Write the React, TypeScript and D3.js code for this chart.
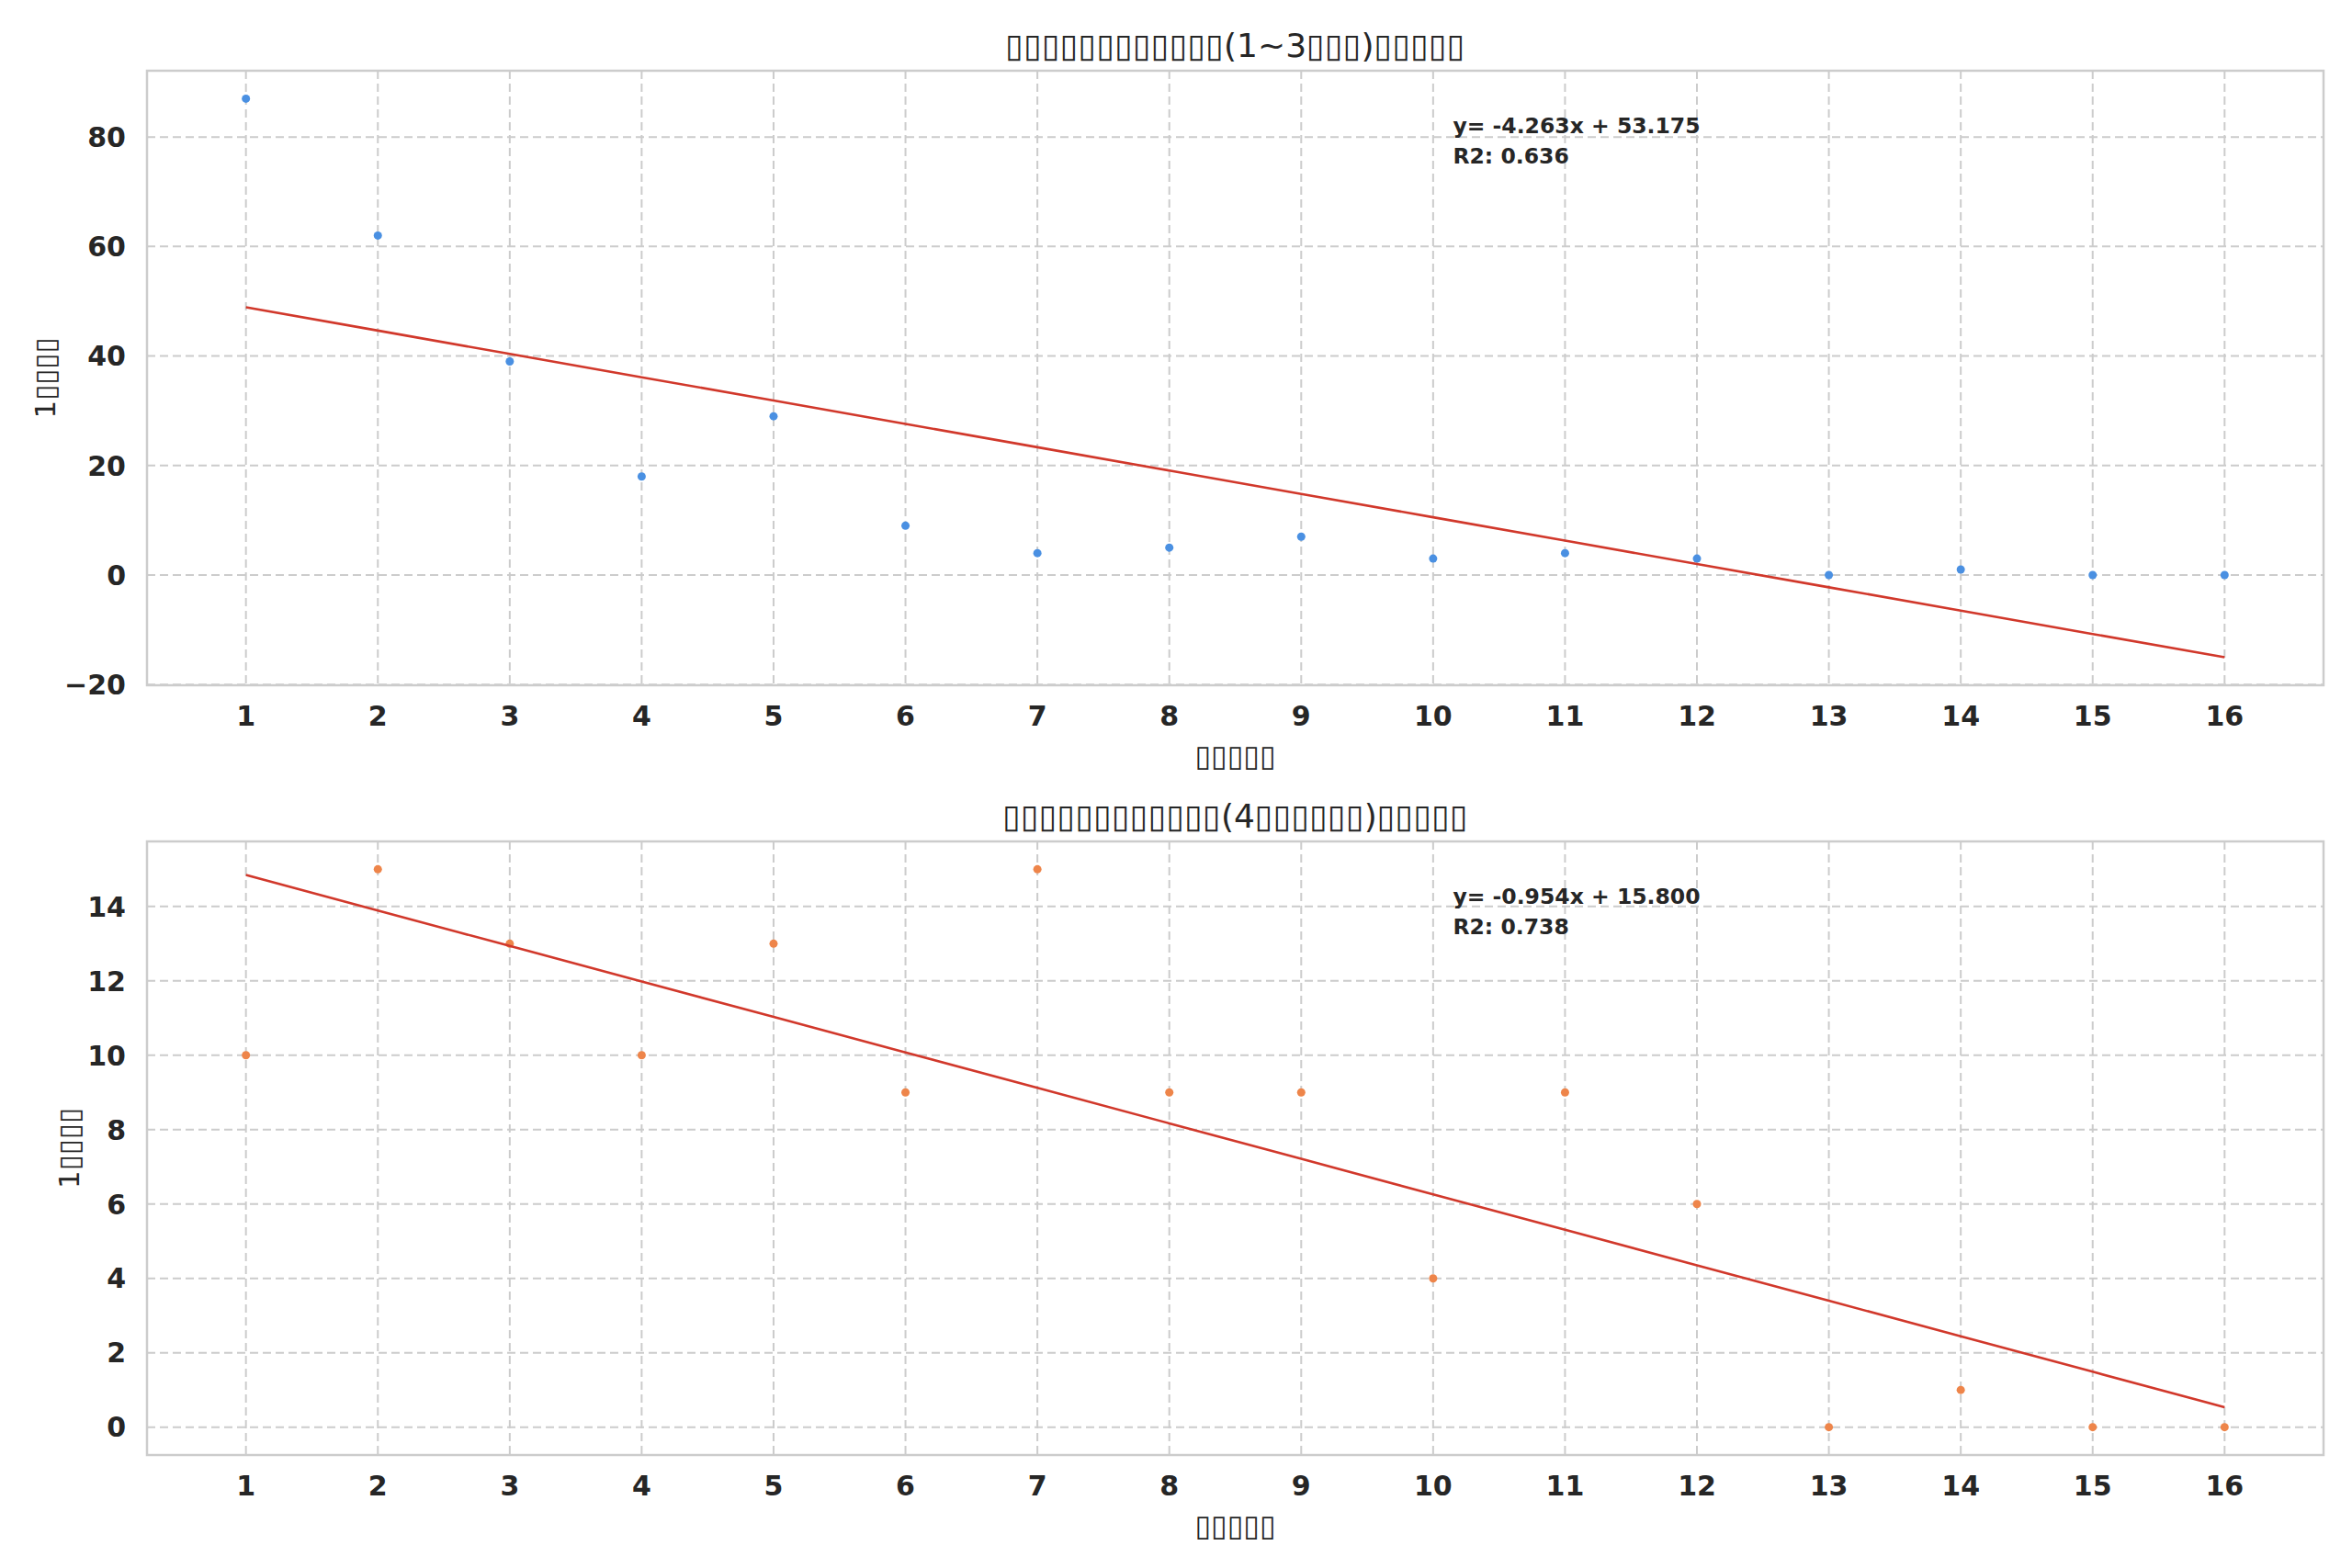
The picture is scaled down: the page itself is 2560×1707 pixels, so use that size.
import { useEffect, useRef } from "react";
import { select, scaleLinear, line, extent } from "d3";

// placeholder glyph for the characters that were rendered as empty boxes in the original
const T = "\u25AF";
const box = (n: number) => T.repeat(n);

const periods = [1, 2, 3, 4, 5, 6, 7, 8, 9, 10, 11, 12, 13, 14, 15, 16];
const shortValues = [87, 62, 39, 18, 29, 9, 4, 5, 7, 3, 4, 3, 0, 1, 0, 0];
const longValues = [10, 15, 13, 10, 13, 9, 15, 9, 9, 4, 9, 6, 0, 1, 0, 0];

const fitSlopes = [-4.263, -0.954];
const fitIntercepts = [53.175, 15.8];
const fitR2 = [0.636, 0.738];

const shortTicks = [-20, 0, 20, 40, 60, 80];
const longTicks = [0, 2, 4, 6, 8, 10, 12, 14];

const titleParts = [
    [box(12), "(1~3", box(3), ")", box(5)],
    [box(12), "(4", box(6), ")", box(5)],
];
const xLabelText = box(5);
const yLabelParts = ["1", box(4)];

const pointColors = ["#4a90e2", "#ee854a"];
const fitColor = "#d1382b";
const textColor = "#262626";
const gridColor = "#cccccc";

const W = 2560;
const H = 1707;
const left = 160;
const right = 2529;
const panels = [
    { top: 77, bottom: 746, ylabelX: 60, values: shortValues, ticks: shortTicks },
    { top: 916, bottom: 1584, ylabelX: 86, values: longValues, ticks: longTicks },
];

const fmtTick = (d: number) => (d < 0 ? "\u2212" + Math.abs(d) : String(d));

export default function App() {
    const ref = useRef<SVGSVGElement>(null);

    useEffect(() => {
        const svg = select(ref.current);
        svg.selectAll("*").remove();
        svg.append("rect").attr("width", W).attr("height", H).attr("fill", "white");

        const x = scaleLinear().domain([0.25, 16.75]).range([left, right]);

        panels.forEach((p, i) => {
            const slope = fitSlopes[i];
            const icpt = fitIntercepts[i];
            const fitted = periods.map((d) => icpt + slope * d);
            const [lo, hi] = extent([...p.values, ...fitted]) as [number, number];
            const pad = (hi - lo) * 0.05;
            const y = scaleLinear().domain([lo - pad, hi + pad]).range([p.bottom, p.top]);
            const g = svg.append("g");

            // grid
            g.selectAll(".gx")
                .data(periods)
                .join("line")
                .attr("x1", (d) => x(d))
                .attr("x2", (d) => x(d))
                .attr("y1", p.top)
                .attr("y2", p.bottom)
                .attr("stroke", gridColor)
                .attr("stroke-width", 2)
                .attr("stroke-dasharray", "9,5");
            g.selectAll(".gy")
                .data(p.ticks)
                .join("line")
                .attr("x1", left)
                .attr("x2", right)
                .attr("y1", (d) => y(d))
                .attr("y2", (d) => y(d))
                .attr("stroke", gridColor)
                .attr("stroke-width", 2)
                .attr("stroke-dasharray", "9,5");

            // frame
            g.append("rect")
                .attr("x", left)
                .attr("y", p.top)
                .attr("width", right - left)
                .attr("height", p.bottom - p.top)
                .attr("fill", "none")
                .attr("stroke", gridColor)
                .attr("stroke-width", 2.5);

            // points
            g.selectAll(".pt")
                .data(p.values)
                .join("circle")
                .attr("cx", (_, j) => x(periods[j]))
                .attr("cy", (d) => y(d))
                .attr("r", 4.5)
                .attr("fill", pointColors[i]);

            // fit line
            g.append("path")
                .datum(periods)
                .attr("fill", "none")
                .attr("stroke", fitColor)
                .attr("stroke-width", 2.6)
                .attr("d", line<number>().x((d) => x(d)).y((d) => y(icpt + slope * d)));

            // ticks
            g.selectAll(".xt")
                .data(periods)
                .join("text")
                .attr("x", (d) => x(d))
                .attr("y", p.bottom + 44)
                .attr("text-anchor", "middle")
                .attr("font-size", 30)
                .attr("font-weight", "bold")
                .attr("fill", textColor)
                .text((d) => d);
            g.selectAll(".yt")
                .data(p.ticks)
                .join("text")
                .attr("x", 137)
                .attr("y", (d) => y(d))
                .attr("dy", "0.36em")
                .attr("text-anchor", "end")
                .attr("font-size", 30)
                .attr("font-weight", "bold")
                .attr("fill", textColor)
                .text(fmtTick);

            // title
            const title = g
                .append("text")
                .attr("x", (left + right) / 2)
                .attr("y", p.top - 15)
                .attr("text-anchor", "middle")
                .attr("font-size", 36)
                .attr("fill", textColor);
            titleParts[i].forEach((s) => title.append("tspan").text(s));

            // axis labels
            g.append("text")
                .attr("x", (left + right) / 2)
                .attr("y", p.bottom + 88)
                .attr("text-anchor", "middle")
                .attr("font-size", 32)
                .attr("fill", textColor)
                .text(xLabelText);
            const yl = g
                .append("text")
                .attr("transform", `translate(${p.ylabelX},${(p.top + p.bottom) / 2}) rotate(-90)`)
                .attr("text-anchor", "middle")
                .attr("font-size", 31)
                .attr("fill", textColor);
            yLabelParts.forEach((s) => yl.append("tspan").text(s));

            // regression annotation
            const ann = g
                .append("text")
                .attr("font-size", 23.5)
                .attr("font-weight", "bold")
                .attr("fill", textColor);
            ann.append("tspan")
                .attr("x", left + 0.6 * (right - left))
                .attr("y", p.top + 68)
                .text(`y= ${slope.toFixed(3)}x + ${icpt.toFixed(3)}`);
            ann.append("tspan")
                .attr("x", left + 0.6 * (right - left))
                .attr("y", p.top + 101)
                .text(`R2: ${fitR2[i].toFixed(3)}`);
        });
    }, []);

    return (
        <svg
            ref={ref}
            width={W}
            height={H}
            style={{ position: "absolute", left: 0, top: 0, fontFamily: "'DejaVu Sans', sans-serif" }}
        />
    );
}
